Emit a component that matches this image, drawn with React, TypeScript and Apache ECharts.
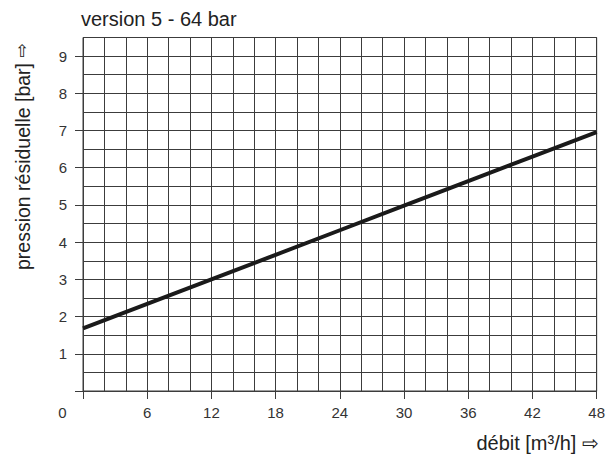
import React, { useEffect, useRef } from "react";
import * as echarts from "echarts";

const flowRates = [0, 6, 12, 18, 24, 30, 36, 42, 48];
const pressures = [1.68, 2.34, 3.0, 3.66, 4.32, 4.98, 5.64, 6.3, 6.96];
const xTickValues = [0, 6, 12, 18, 24, 30, 36, 42, 48];
const xLabelValues = [6, 12, 18, 24, 30, 36, 42, 48];
const yTickValues = [0, 1, 2, 3, 4, 5, 6, 7, 8, 9];
const yLabelValues = [1, 2, 3, 4, 5, 6, 7, 8, 9];
const titleText = "version 5 - 64 bar";
const xName = "débit [m³/h] ⇨";
const yName = "pression résiduelle [bar]";
const yArrow = "⇧";
const originLabel = "0";

const FONT = "'Liberation Sans', Arial, sans-serif";
const GRID_COLOR = "#3c3c3c";
const TEXT_COLOR = "#333";

export default function App() {
  const ref = useRef<HTMLDivElement>(null);
  useEffect(() => {
    if (!ref.current) return;
    const chart = echarts.init(ref.current, null, { renderer: "svg" });
    const xBase = { type: "value", min: 0, max: 48, interval: 2, position: "bottom" };
    const yBase = { type: "value", min: 0, max: 9.5, interval: 0.5, position: "left" };
    chart.setOption({
      animation: false,
      backgroundColor: "#fff",
      grid: { left: 83, right: 10.5, top: 37.5, bottom: 66, containLabel: false, show: true, borderColor: GRID_COLOR, borderWidth: 1 },
      title: {
        text: titleText,
        left: 81,
        top: 9,
        padding: 0,
        textStyle: { fontFamily: FONT, fontSize: 20, fontWeight: "normal", color: "#222" },
      },
      xAxis: [
        {
          ...xBase,
          axisLine: { show: true, lineStyle: { color: GRID_COLOR, width: 1 } },
          axisTick: { show: false },
          axisLabel: { show: false },
          splitLine: { show: true, lineStyle: { color: GRID_COLOR, width: 1 } },
        },
        {
          ...xBase,
          axisLine: { show: false },
          axisTick: { show: true, length: 8, customValues: xTickValues, lineStyle: { color: GRID_COLOR, width: 1 } },
          axisLabel: { show: true, margin: 14, customValues: xLabelValues, fontFamily: FONT, fontSize: 15, color: TEXT_COLOR },
          splitLine: { show: false },
        },
      ],
      yAxis: [
        {
          ...yBase,
          axisLine: { show: true, lineStyle: { color: GRID_COLOR, width: 1 } },
          axisTick: { show: false },
          axisLabel: { show: false },
          splitLine: { show: true, lineStyle: { color: GRID_COLOR, width: 1 } },
        },
        {
          ...yBase,
          axisLine: { show: false },
          axisTick: { show: true, length: 8, customValues: yTickValues, lineStyle: { color: GRID_COLOR, width: 1 } },
          axisLabel: { show: true, margin: 16, customValues: yLabelValues, fontFamily: FONT, fontSize: 15, color: TEXT_COLOR },
          splitLine: { show: false },
        },
      ],
      graphic: [
        {
          type: "text",
          x: 62.5,
          y: 412,
          style: { text: originLabel, fontFamily: FONT, fontSize: 15, fill: TEXT_COLOR, textAlign: "center", textVerticalAlign: "middle" },
        },
        {
          type: "text",
          x: 599,
          y: 443,
          style: { text: xName, fontFamily: FONT, fontSize: 20, fill: "#222", textAlign: "right", textVerticalAlign: "middle" },
        },
        {
          type: "text",
          x: 23,
          y: 166.5,
          rotation: Math.PI / 2,
          style: { text: yName, fontFamily: FONT, fontSize: 19.5, fill: "#222", textAlign: "center", textVerticalAlign: "middle" },
        },
        {
          type: "text",
          x: 22,
          y: 51,
          style: { text: yArrow, fontFamily: "'DejaVu Sans', sans-serif", fontSize: 17, fill: "#222", textAlign: "center", textVerticalAlign: "middle" },
        },
      ],
      series: [
        {
          type: "line",
          xAxisIndex: 0,
          yAxisIndex: 0,
          data: flowRates.map((x, i) => [x, pressures[i]]),
          showSymbol: false,
          symbol: "none",
          lineStyle: { color: "#1a1a1a", width: 4 },
          silent: true,
        },
      ],
    });
    return () => chart.dispose();
  }, []);
  return <div ref={ref} style={{ width: 608, height: 457, position: "absolute", left: 0, top: 0 }} />;
}
